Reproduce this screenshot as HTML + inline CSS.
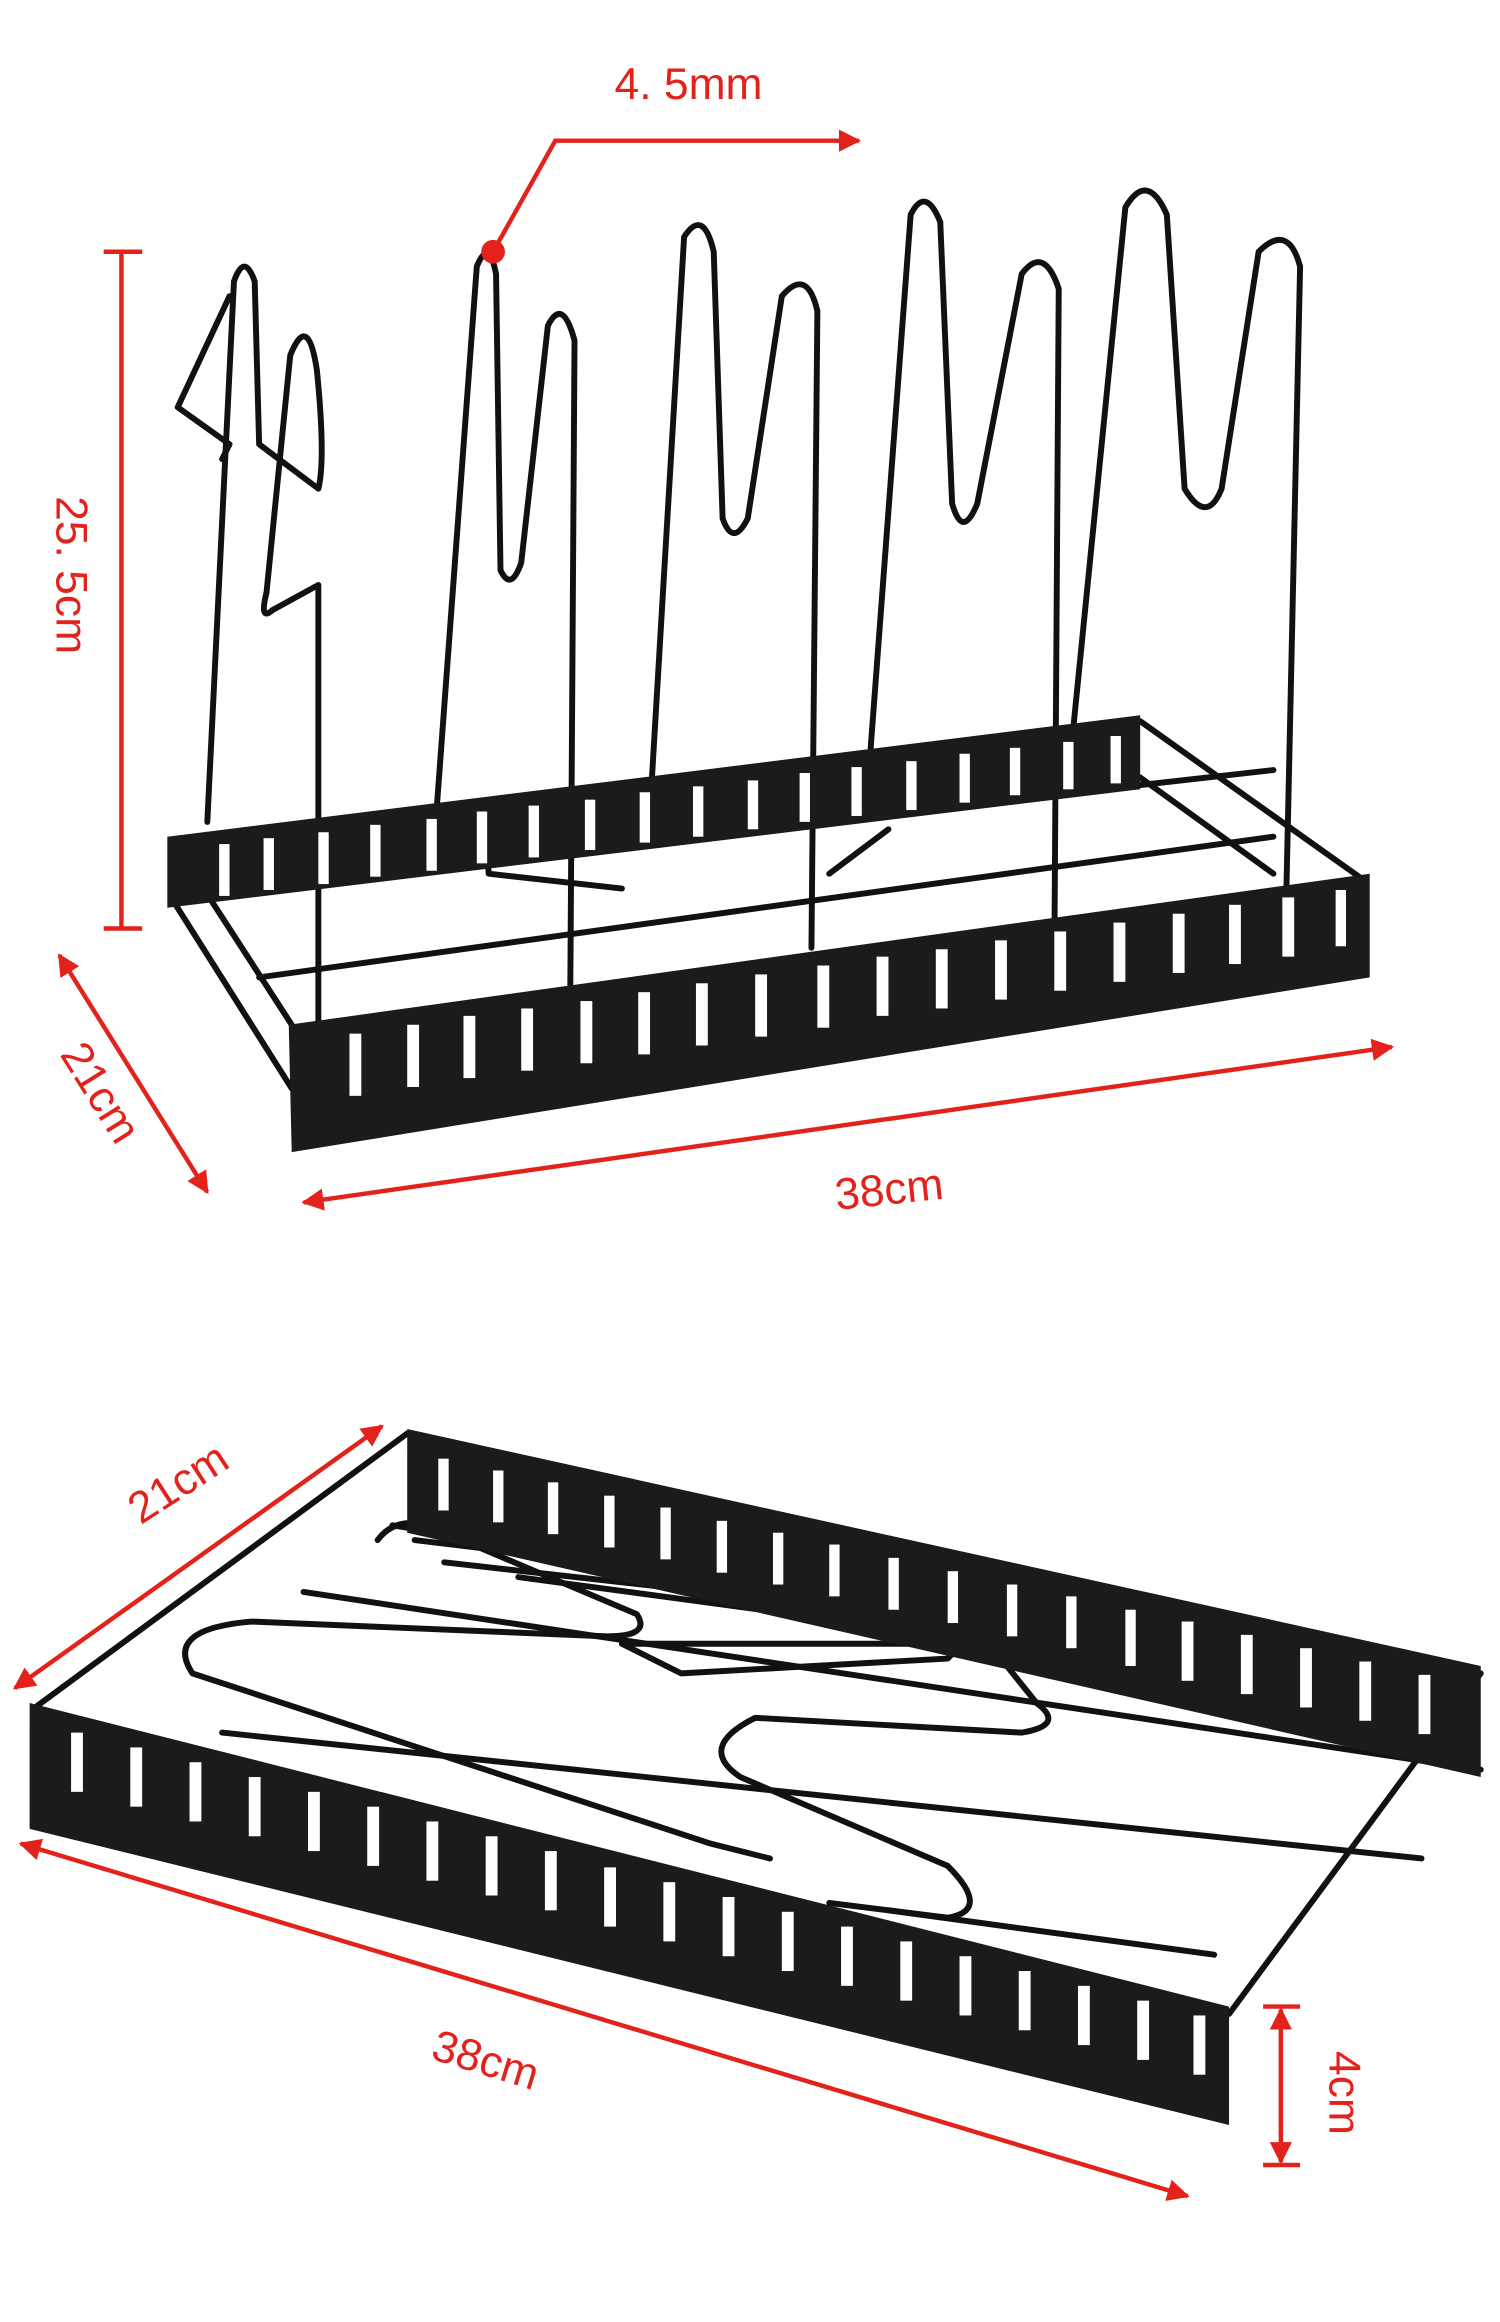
<!DOCTYPE html>
<html><head><meta charset="utf-8"><style>
html,body{margin:0;padding:0;background:#fff;}
svg{display:block;}
text{font-family:"Liberation Sans",sans-serif;fill:#e3221c;}
</style></head><body>
<svg width="1500" height="2322" viewBox="0 0 1013 1568" preserveAspectRatio="none" xmlns="http://www.w3.org/2000/svg">
<defs>
<marker id="ar" viewBox="0 0 10 10" refX="9" refY="5" markerWidth="5" markerHeight="5" orient="auto-start-reverse"><path d="M0,0 L10,5 L0,10 z" fill="#e3221c"/></marker>
</defs>
<rect width="1013" height="1568" fill="#fff"/>

<!-- ===== TOP RACK ===== -->
<g fill="none" stroke="#111" stroke-width="4" stroke-linejoin="round" stroke-linecap="round">
<!-- frame wires -->
<line x1="118" y1="570" x2="197" y2="692"/>
<line x1="118" y1="610" x2="197" y2="735"/>
<line x1="770" y1="487" x2="922" y2="595"/>
<line x1="770" y1="525" x2="860" y2="590"/>
<line x1="150" y1="600" x2="860" y2="520"/>
<line x1="175" y1="660" x2="860" y2="565"/>
<!-- racks -->
<path d="M140,555 L158,190 Q165,170 172,190 L175,300 L215,330 Q220,310 214,250 Q208,210 196,240 L180,400 Q175,420 184,412 L215,395 L215,690"/>
<path d="M155,200 L120,275 L155,300 L150,310"/>
<path d="M295,545 L322,180 Q330,160 335,185 L338,385 Q345,400 352,380 L370,220 Q380,200 388,230 L385,690"/>
<path d="M440,530 L462,160 Q475,140 482,170 L488,350 Q495,370 505,350 L528,200 Q545,180 552,210 L548,640"/>
<path d="M588,505 L615,145 Q625,125 635,150 L643,340 Q650,365 660,340 L690,185 Q705,165 715,195 L712,650"/>
<path d="M725,490 L760,140 Q775,115 788,145 L800,330 Q815,355 825,330 L850,170 Q870,150 878,180 L868,635"/>
<path d="M300,580 Q330,570 330,590 L420,600 M560,590 L600,560"/>
</g>
<!-- back panel top -->
<polygon points="113,565 770,483 770,533 113,613" fill="#1b1b1b"/>
<!-- front panel top -->
<polygon points="195,692 925,590 925,660 197,778" fill="#1b1b1b"/>
<g fill="#fff">
<rect x="236" y="698" width="8" height="42"/><rect x="275" y="692" width="8" height="42"/><rect x="313" y="686" width="8" height="42"/><rect x="352" y="681" width="8" height="42"/><rect x="392" y="676" width="8" height="42"/><rect x="431" y="670" width="8" height="42"/><rect x="470" y="664" width="8" height="42"/><rect x="510" y="658" width="8" height="42"/><rect x="552" y="652" width="8" height="42"/><rect x="592" y="646" width="8" height="40"/><rect x="632" y="641" width="8" height="40"/><rect x="672" y="635" width="8" height="40"/><rect x="712" y="629" width="8" height="40"/><rect x="752" y="623" width="8" height="40"/><rect x="792" y="617" width="8" height="40"/><rect x="830" y="611" width="8" height="40"/><rect x="866" y="606" width="8" height="40"/><rect x="902" y="601" width="7" height="38"/>
<rect x="148" y="570" width="7" height="35"/><rect x="178" y="566" width="7" height="35"/><rect x="215" y="562" width="7" height="35"/><rect x="250" y="557" width="7" height="35"/><rect x="288" y="553" width="7" height="35"/><rect x="322" y="548" width="7" height="35"/><rect x="357" y="544" width="7" height="35"/><rect x="395" y="540" width="7" height="34"/><rect x="432" y="535" width="7" height="34"/><rect x="468" y="531" width="7" height="34"/><rect x="505" y="527" width="7" height="33"/><rect x="540" y="522" width="7" height="33"/><rect x="575" y="518" width="7" height="33"/><rect x="612" y="514" width="7" height="33"/><rect x="648" y="509" width="7" height="33"/><rect x="682" y="505" width="7" height="32"/><rect x="718" y="501" width="7" height="32"/><rect x="750" y="497" width="7" height="32"/>
</g>
<!-- top annotations -->
<g stroke="#e3221c" stroke-width="3" fill="none">
<line x1="82" y1="170" x2="82" y2="627"/><line x1="70" y1="170" x2="96" y2="170"/><line x1="70" y1="627" x2="96" y2="627"/>
<line x1="40" y1="645" x2="140" y2="805" marker-start="url(#ar)" marker-end="url(#ar)"/>
<line x1="205" y1="812" x2="940" y2="707" marker-start="url(#ar)" marker-end="url(#ar)"/>
<polyline points="333,170 375,95 580,95" marker-end="url(#ar)"/>
</g>
<circle cx="333" cy="170" r="8" fill="#e3221c"/>
<text x="415" y="67" font-size="30">4. 5mm</text>
<text font-size="30" transform="translate(38,335) rotate(90)">25. 5cm</text>
<text font-size="30" transform="translate(40,712) rotate(58)">21cm</text>
<text font-size="30" transform="translate(565,817) rotate(-6)">38cm</text>

<!-- ===== BOTTOM RACK ===== -->
<g fill="none" stroke="#111" stroke-width="4" stroke-linejoin="round" stroke-linecap="round">
<line x1="275" y1="968" x2="25" y2="1152"/>
<line x1="1000" y1="1130" x2="830" y2="1360"/>
<line x1="205" y1="1075" x2="1000" y2="1195"/>
<line x1="150" y1="1170" x2="960" y2="1255"/>
<line x1="600" y1="1290" x2="820" y2="1320"/>
<path d="M255,1040 Q270,1020 300,1035 L430,1090 Q440,1105 410,1105 L170,1095 Q110,1100 130,1130 L480,1245 L520,1255"/>
<path d="M265,1030 L640,1090 Q660,1100 640,1110 L420,1110"/>
<path d="M420,1110 L460,1130 L640,1120 L660,1100 L700,1150 Q720,1165 690,1170 L510,1160 Q470,1180 500,1200 L640,1260 Q670,1290 640,1295 L560,1285"/>
<path d="M280,1040 L780,1100 M300,1055 L790,1110 M350,1065 L760,1120"/>
</g>
<polygon points="275,965 1000,1125 1000,1200 275,1035" fill="#1b1b1b"/>
<polygon points="20,1150 830,1355 830,1435 20,1235" fill="#1b1b1b"/>
<g fill="#fff">
<rect x="48" y="1170" width="8" height="40"/><rect x="88" y="1180" width="8" height="40"/><rect x="128" y="1190" width="8" height="40"/><rect x="168" y="1200" width="8" height="40"/><rect x="208" y="1210" width="8" height="40"/><rect x="248" y="1220" width="8" height="40"/><rect x="288" y="1230" width="8" height="40"/><rect x="328" y="1240" width="8" height="40"/><rect x="368" y="1250" width="8" height="40"/><rect x="408" y="1261" width="8" height="40"/><rect x="448" y="1271" width="8" height="40"/><rect x="488" y="1281" width="8" height="40"/><rect x="528" y="1291" width="8" height="40"/><rect x="568" y="1301" width="8" height="40"/><rect x="608" y="1311" width="8" height="40"/><rect x="648" y="1321" width="8" height="40"/><rect x="688" y="1331" width="8" height="40"/><rect x="728" y="1341" width="8" height="40"/><rect x="768" y="1351" width="8" height="40"/><rect x="806" y="1361" width="8" height="40"/>
<rect x="296" y="985" width="7" height="35"/><rect x="333" y="993" width="7" height="35"/><rect x="370" y="1001" width="7" height="35"/><rect x="408" y="1010" width="7" height="35"/><rect x="446" y="1018" width="7" height="35"/><rect x="484" y="1027" width="7" height="35"/><rect x="522" y="1035" width="7" height="35"/><rect x="560" y="1043" width="7" height="35"/><rect x="600" y="1052" width="7" height="35"/><rect x="640" y="1061" width="7" height="35"/><rect x="680" y="1070" width="7" height="35"/><rect x="720" y="1078" width="7" height="35"/><rect x="760" y="1087" width="7" height="38"/><rect x="798" y="1095" width="8" height="40"/><rect x="838" y="1104" width="8" height="40"/><rect x="878" y="1113" width="8" height="40"/><rect x="918" y="1122" width="8" height="40"/><rect x="958" y="1131" width="8" height="40"/>
</g>
<!-- bottom annotations -->
<g stroke="#e3221c" stroke-width="3" fill="none">
<line x1="10" y1="1140" x2="258" y2="963" marker-start="url(#ar)" marker-end="url(#ar)"/>
<line x1="14" y1="1245" x2="802" y2="1483" marker-start="url(#ar)" marker-end="url(#ar)"/>
<line x1="865" y1="1357" x2="865" y2="1460" marker-start="url(#ar)" marker-end="url(#ar)"/>
<line x1="853" y1="1355" x2="878" y2="1355"/><line x1="853" y1="1462" x2="878" y2="1462"/>
</g>
<text font-size="30" transform="translate(95,1030) rotate(-33)">21cm</text>
<text font-size="30" transform="translate(290,1390) rotate(17)">38cm</text>
<text font-size="30" transform="translate(898,1385) rotate(90)">4cm</text>
</svg>
</body></html>
